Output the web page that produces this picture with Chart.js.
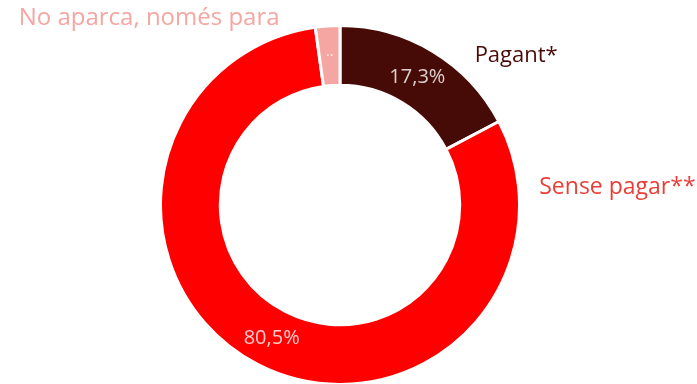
<!DOCTYPE html>
<html>
<head>
<meta charset="utf-8">
<script src="https://cdn.jsdelivr.net/npm/chart.js@4"></script>
<style>
  html, body { margin: 0; padding: 0; background: #fff; overflow: hidden; }
  #wrap { width: 697px; height: 384px; overflow: hidden; }
</style>
</head>
<body>
<div id="wrap"><canvas id="aparcament" width="697" height="386"></canvas></div>
<script>
const categories = ['Pagant*', 'Sense pagar**', 'No aparca, només para'];
const percentages = [17.3, 80.5, 2.2];
const sliceLabels = ['17,3%', '80,5%', '..'];
const sliceColors = ['#470b07', '#ff0000', '#f5a6a2'];
const nameColors = ['#4a0b08', '#ea3f38', '#f5a6a2'];

const FONT = '"Open Sans", Lato, sans-serif';

// text inside each slice, at the middle of the ring
const sliceText = {
  id: 'sliceText',
  afterDatasetsDraw(chart) {
    const ctx = chart.ctx;
    const arcs = chart.getDatasetMeta(0).data;
    ctx.save();
    ctx.textAlign = 'center';
    ctx.textBaseline = 'middle';
    arcs.forEach((arc, i) => {
      const p = arc.tooltipPosition();
      ctx.font = (i === 2 ? '15px ' : '20px ') + FONT;
      ctx.fillStyle = 'rgba(255,255,255,0.8)';
      ctx.fillText(sliceLabels[i], p.x, p.y + (i === 2 ? -4 : 0));
    });
    ctx.restore();
  }
};

// category names around the ring
const nameText = {
  id: 'nameText',
  afterDraw(chart) {
    const ctx = chart.ctx;
    const arc = chart.getDatasetMeta(0).data[0];
    const cx = arc.x, cy = arc.y, R = arc.outerRadius;
    const spots = [
      [cx + R * 0.75, cy - R * 0.83, 22],
      [cx + R * 1.11, cy - R * 0.10, 23],
      [cx - R * 1.79, cy - R * 1.04, 24]
    ];
    ctx.save();
    ctx.textBaseline = 'middle';
    ctx.textAlign = 'left';
    spots.forEach((s, i) => {
      ctx.font = s[2] + 'px ' + FONT;
      ctx.fillStyle = nameColors[i];
      ctx.fillText(categories[i], s[0], s[1]);
    });
    ctx.restore();
  }
};

new Chart(document.getElementById('aparcament').getContext('2d'), {
  type: 'doughnut',
  data: {
    labels: categories,
    datasets: [{
      data: percentages,
      backgroundColor: sliceColors,
      borderColor: '#ffffff',
      borderWidth: 3,
      hoverOffset: 0
    }]
  },
  options: {
    responsive: false,
    animation: false,
    cutout: '66.7%',
    layout: { padding: { left: 0, right: 17, top: 24, bottom: 0 } },
    plugins: {
      legend: { display: false },
      tooltip: { enabled: false }
    }
  },
  plugins: [sliceText, nameText]
});
</script>
</body>
</html>
